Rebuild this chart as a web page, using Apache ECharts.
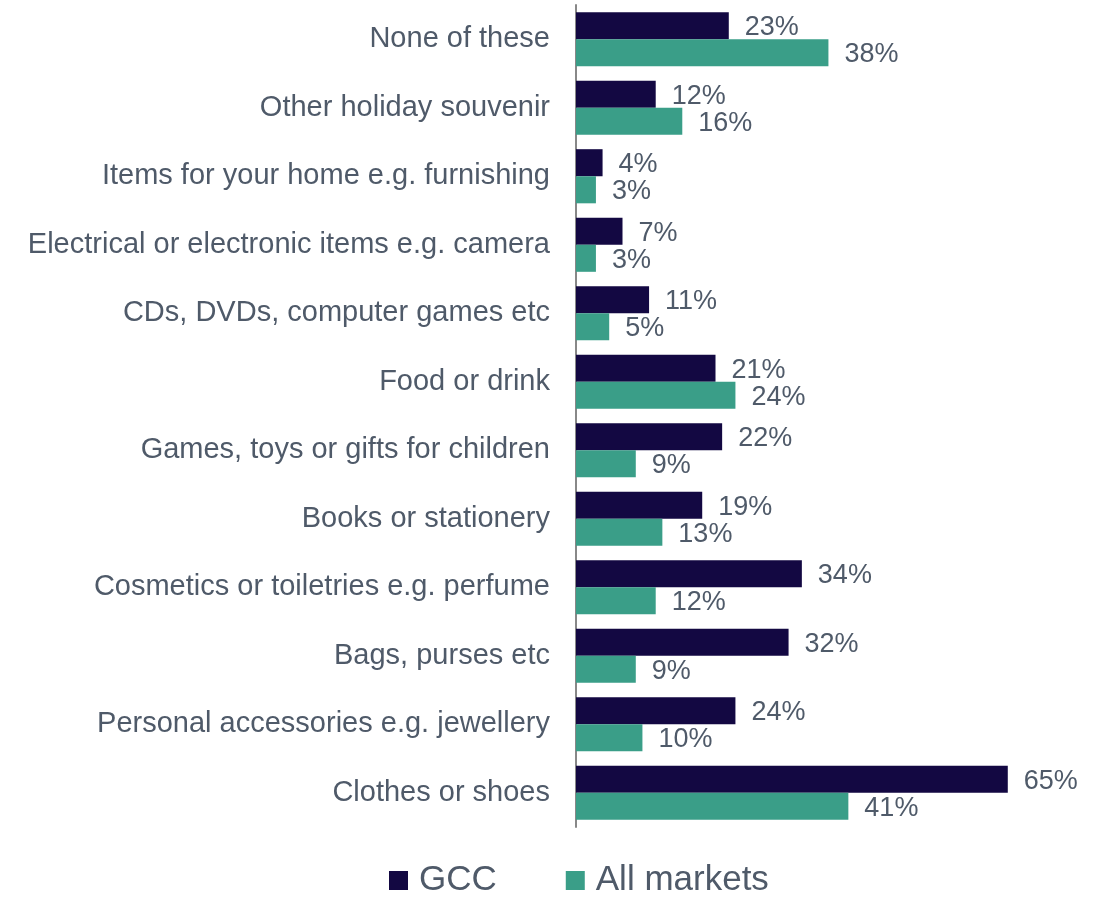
<!DOCTYPE html>
<html>
<head>
<meta charset="utf-8">
<script src="https://cdn.jsdelivr.net/npm/echarts@6/dist/echarts.min.js"></script>
<style>
  html, body { margin: 0; padding: 0; background: #ffffff; }
  #chart { width: 1102px; height: 898px; }
</style>
</head>
<body>
<div id="chart"></div>
<script>
// Categories listed top to bottom
const categories = [
  'None of these',
  'Other holiday souvenir',
  'Items for your home e.g. furnishing',
  'Electrical or electronic items e.g. camera',
  'CDs, DVDs, computer games etc',
  'Food or drink',
  'Games, toys or gifts for children',
  'Books or stationery',
  'Cosmetics or toiletries e.g. perfume',
  'Bags, purses etc',
  'Personal accessories e.g. jewellery',
  'Clothes or shoes'
];
const gccValues = [23, 12, 4, 7, 11, 21, 22, 19, 34, 32, 24, 65];
const allMarketsValues = [38, 16, 3, 3, 5, 24, 9, 13, 12, 9, 10, 41];
const seriesNames = ['GCC', 'All markets'];

const textColor = '#4f5a69';
const font = '"Liberation Sans", Arial, sans-serif';

const chart = echarts.init(document.getElementById('chart'));
const labelOpt = {
  show: true,
  position: 'right',
  distance: 16,
  offset: [0, 2],
  formatter: p => p.value + '%',
  color: textColor,
  fontSize: 27,
  fontFamily: font
};

chart.setOption({
  animation: false,
  grid: { left: 576, top: 5, width: 465, height: 822, containLabel: false },
  legend: {
    data: seriesNames,
    top: 858,
    left: 384,
    itemWidth: 19,
    itemHeight: 19,
    itemGap: 69,
    icon: 'rect',
    textStyle: { color: textColor, fontSize: 35, fontFamily: font, padding: [0, 0, 0, 6] }
  },
  xAxis: {
    type: 'value',
    min: 0,
    max: 70,
    show: false
  },
  yAxis: {
    type: 'category',
    data: categories,
    inverse: true,
    axisLine: { show: true, lineStyle: { color: '#888888', width: 2 } },
    axisTick: { show: false },
    axisLabel: { color: textColor, fontSize: 29, fontFamily: font, margin: 26, padding: [4, 0, 0, 0] }
  },
  series: [
    {
      name: seriesNames[0],
      type: 'bar',
      data: gccValues,
      barCategoryGap: '21%',
      barGap: '0%',
      itemStyle: { color: '#130842' },
      label: labelOpt
    },
    {
      name: seriesNames[1],
      type: 'bar',
      data: allMarketsValues,
      barCategoryGap: '21%',
      barGap: '0%',
      itemStyle: { color: '#3a9e88' },
      label: labelOpt
    }
  ]
});
</script>
</body>
</html>
